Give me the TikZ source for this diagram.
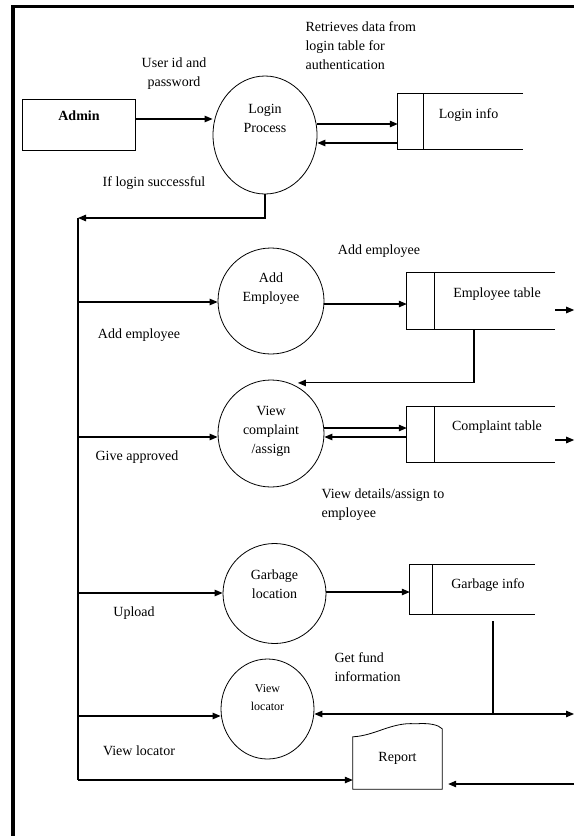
\documentclass[tikz,border=0pt]{standalone}
\usepackage{fontspec}
\setmainfont{Liberation Serif}
\usetikzlibrary{arrows.meta,shapes.geometric}

\tikzset{
    proc/.style={draw, ellipse, line width=0.8pt, inner sep=0pt},
    entity/.style={draw, rectangle, line width=0.8pt},
    store/.style={rectangle, inner sep=0pt},
    flow/.style={line width=1.1pt, -{Triangle[length=8pt,width=6.5pt]}},
    wire/.style={line width=1.1pt},
}

\begin{document}
\begin{tikzpicture}[x=1pt, y=-1pt, font=\fontsize{14}{19}\selectfont]
                \useasboundingbox (0,0) rectangle (574,836);
                \draw[line width=3.5pt] (13,836) -- (13,6.5) -- (574,6.5);

                \node[entity, minimum width=113pt, minimum height=51pt, label={[yshift=9pt]center:\textbf{Admin}}] (admin) at (79,125) {};
                \node[proc, minimum width=104pt, minimum height=118pt, label={[align=center,yshift=17pt]center:Login\\Process}] (login) at (265,135) {};
                \node[proc, minimum width=106pt, minimum height=106pt, label={[align=center,yshift=12pt]center:Add\\Employee}] (addemp) at (271,301) {};
                \node[proc, minimum width=106pt, minimum height=107pt, label={[align=center,yshift=2.5pt]center:View\\complaint\\/assign}] (viewc) at (271,433.5) {};
                \node[proc, minimum width=103pt, minimum height=100pt, label={[align=center,yshift=9pt]center:Garbage\\location}] (garb) at (274.5,593.5) {};
                \node[proc, minimum width=93pt, minimum height=100pt, label={[align=center,yshift=11pt,font=\fontsize{12}{18}\selectfont]center:View\\locator}] (viewl) at (267.5,709) {};

                \node[store, minimum width=125pt, minimum height=55pt, label={[xshift=8pt,yshift=6pt]center:Login info}] (li) at (460.5,121.5) {};
                \node[store, minimum width=148pt, minimum height=56pt, label={[xshift=16pt,yshift=7pt]center:Employee table}] (et) at (481,301) {};
                \node[store, minimum width=148pt, minimum height=55pt, label={[xshift=16pt,yshift=7.5pt]center:Complaint table}] (ct) at (481,434.5) {};
                \node[store, minimum width=125pt, minimum height=49pt, label={[xshift=15.5pt,yshift=4.5pt]center:Garbage info}] (gi) at (472.5,589.5) {};
                \foreach \s/\c in {li/26, et/28, ct/28, gi/23} {
                    \draw[line width=0.8pt] (\s.north east) -- (\s.north west) -- (\s.south west) -- (\s.south east);
                    \draw[line width=0.8pt] ([xshift=\c pt]\s.north west) -- ([xshift=\c pt]\s.south west);
                }

                \node[minimum width=89pt, minimum height=62pt] (report) at (397.5,758) {Report};
                \draw[line width=0.8pt] (report.south west) -- ([yshift=-10pt]report.north west)
                    .. controls +(22,-1) and +(-23,-2) .. ([xshift=-27pt,yshift=3pt]report.north east)
                    .. controls +(15,-1) and +(-4,-4) .. ([yshift=-2pt]report.north east)
                    -- (report.south east) -- cycle;

                \node[align=center] (uidlbl) at (174,74) {User id and\\password};
                \node[align=left, anchor=west] (retlbl) at (302,46) {Retrieves data from\\login table for\\authentication};
                \node (oklbl) at (154,183) {If login successful};
                \node (addlbl) at (379,251) {Add employee};
                \node (addlbl2) at (139,335) {Add employee};
                \node (givelbl) at (137,457) {Give approved};
                \node[align=left, anchor=west] (detlbl) at (318,505) {View details/assign to\\employee};
                \node (uplbl) at (134,613) {Upload};
                \node[align=left, anchor=west] (fundlbl) at (331,667) {Get fund\\information};
                \node (vllbl) at (139,751) {View locator};

                \coordinate (bus) at (78,218);
                \coordinate (busend) at (78,780);
                \coordinate (fund) at (493,714);

                \draw[flow] ([yshift=6pt]admin.east) -- ([yshift=6pt]admin.east -| login.west);
                \draw[flow] (login.east |- 0,124) -- (li.west |- 0,124);
                \draw[flow] (li.west |- 0,143) -- (login.east |- 0,143);
                \draw[flow] (login.south) |- (bus);
                \draw[wire] (bus) -- (busend);

                \draw[flow] (bus |- 0,302) -- (addemp.west |- 0,302);
                \draw[flow] (addemp.east |- 0,304) -- (et.west |- 0,304);
                \draw[flow] (et.east |- 0,310) -- ++(19,0);
                \draw[flow] ([xshift=-7pt]et.south) |- ([yshift=4pt]viewc.60);

                \draw[flow] (bus |- 0,437) -- (viewc.west |- 0,437);
                \draw[flow] (viewc.east |- 0,428) -- (ct.west |- 0,428);
                \draw[flow] (ct.west |- 0,437) -- (viewc.east |- 0,437);
                \draw[flow] (ct.east |- 0,440) -- ++(19,0);

                \draw[flow] (bus |- 0,593) -- (garb.west |- 0,593);
                \draw[flow] (garb.east |- 0,592) -- (gi.west |- 0,592);
                \draw[wire] (fund |- gi.south) ++(0,7) -- (fund);
                \draw[flow] (fund) -- (viewl.east |- fund);
                \draw[flow] (fund) -- ++(81,0);

                \draw[flow] (bus |- 0,716) -- (viewl.west |- 0,716);
                \draw[flow] (busend) -- (report.west |- busend);
                \draw[flow] (574,784) -- ([xshift=6pt]report.east |- 0,784);
\end{tikzpicture}
\end{document}
